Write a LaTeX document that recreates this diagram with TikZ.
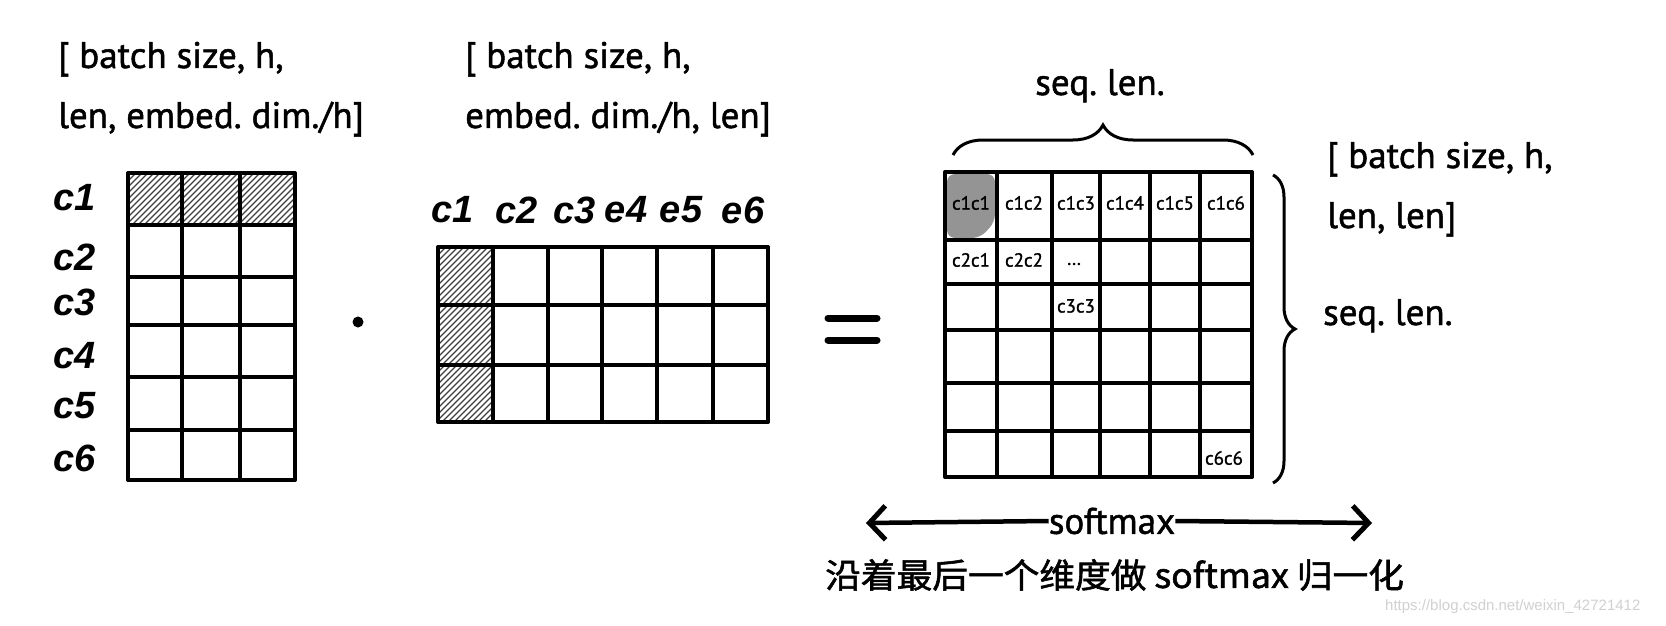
\documentclass[tikz,border=0pt]{standalone}
\usepackage{fontspec}
\setmainfont{PT Sans}[RawFeature={embolden=1.3}]
\newfontfamily\cjk{Noto Sans CJK SC}[FakeStretch=1.05,RawFeature={embolden=1.6}]
\newfontfamily\hand{Liberation Sans}
\newfontfamily\wmfont{Liberation Sans}
\frenchspacing
\usetikzlibrary{arrows.meta,decorations.pathreplacing}
\newcommand\hatchcell[4]{%
  \begin{scope}
    \clip (#1,#2) rectangle (#3,#4);
    \foreach \k in {-80,-74,...,80}
      \draw[line width=1.1pt,black!75] ({#1+\k},#4) -- ++(90,-90);
  \end{scope}}
\begin{document}
\begin{tikzpicture}[x=1pt,y=-1pt,
  grid/.style={line width=3.5pt,line cap=round,line join=round},
  lbl/.style={inner sep=0pt,font=\fontsize{37}{42}\selectfont},
  hw/.style={inner sep=0pt,font=\hand\bfseries\itshape\fontsize{38}{40}\selectfont},
  cell/.style={inner sep=0pt,font=\fontsize{19}{22}\selectfont},
  brc/.style={decorate,line width=3pt}]
\useasboundingbox (0,0) rectangle (1666,626);
\fill[white] (0,0) rectangle (1666,626);

% ---------- left matrix ----------
\hatchcell{128}{173}{182}{225}
\hatchcell{182}{173}{240}{225}
\hatchcell{240}{173}{295}{225}
\foreach \x in {128,182,240,295} \draw[grid] (\x,173) -- (\x,480);
\foreach \y in {173,225,277,325,377,430,480} \draw[grid] (128,\y) -- (295,\y);
\node[lbl,anchor=base west] (t1a) at (58,68) {[ batch size, h,};
\node[lbl,anchor=base west] (t1b) at (58,128) {len, embed. dim./h]};
\foreach \n/\y in {1/198,2/257,3/302,4/356,5/406,6/458}
  \node[hw] (l\n) at (75,\y) {c\n};

% dot
\fill (358,322) circle (5.5pt);

% ---------- middle matrix ----------
\hatchcell{438}{247}{493}{305}
\hatchcell{438}{305}{493}{365}
\hatchcell{438}{365}{493}{422}
\foreach \x in {438,493,548,602,657,713,768} \draw[grid] (\x,247) -- (\x,422);
\foreach \y in {247,305,365,422} \draw[grid] (438,\y) -- (768,\y);
\node[lbl,anchor=base west] (t2a) at (465,68) {[ batch size, h,};
\node[lbl,anchor=base west] (t2b) at (465,128) {embed. dim./h, len]};
\node[hw] (m1) at (453,210) {c1};
\node[hw] (m2) at (517,210) {c2};
\node[hw] (m3) at (575,210) {c3};
\node[hw] (m4) at (626,210) {e4};
\node[hw] (m5) at (681,210) {e5};
\node[hw] (m6) at (743,210) {e6};

% equals
\draw[line width=7pt,line cap=round] (828,318) -- (877,318);
\draw[line width=7pt,line cap=round] (828,340) -- (877,340);

% ---------- right matrix ----------
\fill[black!42] (947,174) [rounded corners=8pt] -- (995,174) -- (995,222) -- (980,238) -- (947,238) -- cycle;
\foreach \x in {945,997,1052,1100,1150,1200,1252} \draw[grid] (\x,172) -- (\x,477);
\foreach \y in {172,240,284,330,383,431,477} \draw[grid] (945,\y) -- (1252,\y);
\foreach \i/\x in {1/971,2/1024,3/1076,4/1125,5/1175,6/1226}
  \node[cell] (r1\i) at (\x,203) {c1c\i};
\node[cell] (r21) at (971,260) {c2c1};
\node[cell] (r22) at (1024,260) {c2c2};
\node[cell] (rdots) at (1074,264) {\dots};
\node[cell] (r33) at (1076,306) {c3c3};
\node[cell] (r66) at (1224,458) {c6c6};

% braces
\draw[brc,decoration={brace,amplitude=30pt}] (953,155) -- (1253,155);
\draw[brc,decoration={brace,amplitude=22pt}] (1273,175) -- (1273,483);
\node[lbl,anchor=base] (seqtop) at (1100,95) {seq. len.};
\node[lbl,anchor=base west] (t3a) at (1327,168) {[ batch size, h,};
\node[lbl,anchor=base west] (t3b) at (1327,228) {len, len]};
\node[lbl,anchor=base west] (seqright) at (1323,325) {seq. len.};

% softmax arrow
\node[lbl] (sm) at (1112,521) {softmax};
\coordinate (al) at (866,523);
\coordinate (ar) at (1372,523);
\draw[line width=4.5pt,-{Straight Barb[length=16pt,width=34pt,line width=5pt]}] (sm.west) -- (al);
\draw[line width=4.5pt,-{Straight Barb[length=16pt,width=34pt,line width=5pt]}] (sm.east) -- (ar);
\node[inner sep=0pt,anchor=west,font=\cjk\fontsize{34}{36}\selectfont] (zh) at (825,575) {沿着最后一个维度做 softmax 归一化};

% watermark
\node[inner sep=0pt,anchor=west,text=black!18,font=\wmfont\fontsize{15}{18}\selectfont] (wm) at (1385,607) {https://blog.csdn.net/weixin\_42721412};
\end{tikzpicture}
\end{document}
